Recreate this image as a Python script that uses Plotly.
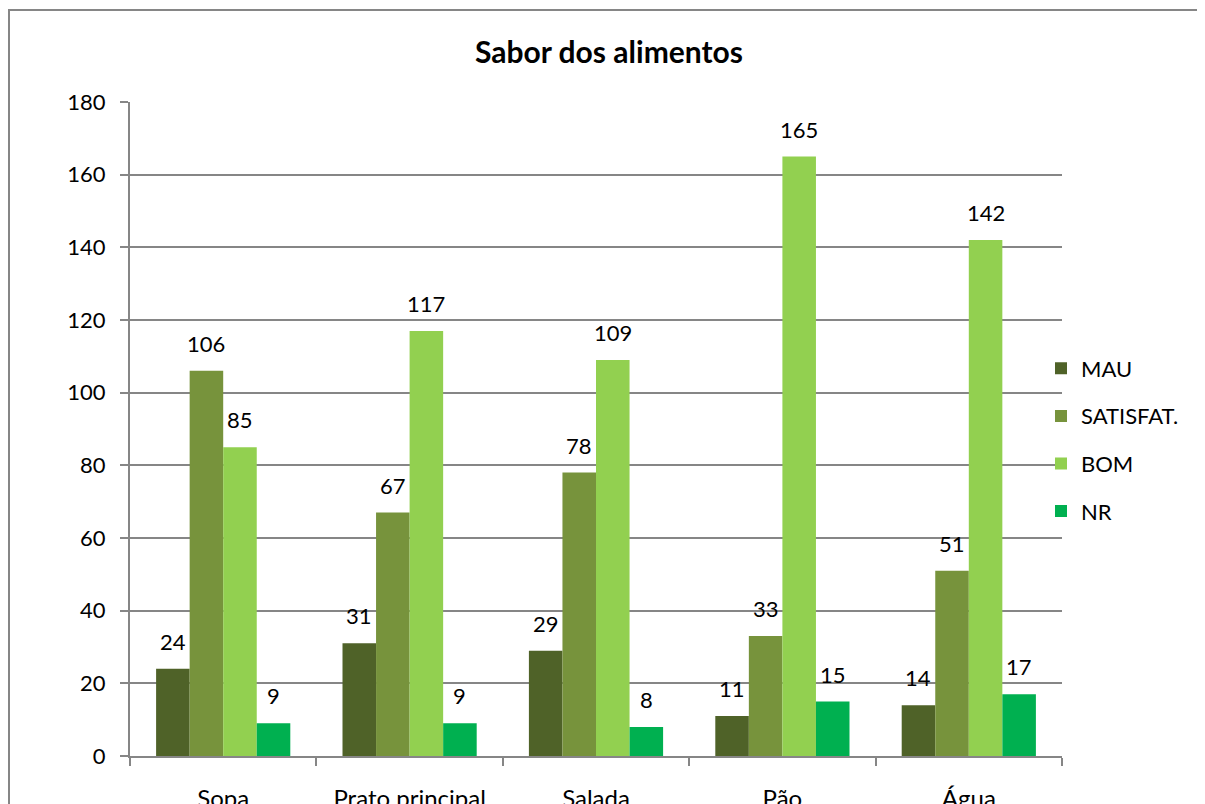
import plotly.graph_objects as go

categories = ["Sopa", "Prato principal", "Salada", "Pão", "Água"]
series_names = ["MAU", "SATISFAT.", "BOM", "NR"]
mau = [24, 31, 29, 11, 14]
satisfat = [106, 67, 78, 33, 51]
bom = [85, 117, 109, 165, 142]
nr = [9, 9, 8, 15, 17]
colors = ["#4F6228", "#77933C", "#92D050", "#00B050"]
y_ticks = [0, 20, 40, 60, 80, 100, 120, 140, 160, 180]

all_series = [mau, satisfat, bom, nr]
FONT = "Lato, 'Open Sans', sans-serif"

# page body has an 8px offset; figure laid out so the screenshot matches
OFF = 8
W, H = 1197, 796
L, R, T, B = 122, 143, 94, 48
plot_w = W - L - R
plot_h = H - T - B
bargap = 0.28
bar_px = plot_w / len(categories) * (1 - bargap) / len(all_series)


def sx(x):
    return (x - OFF - L) / plot_w


def sy(y):
    return (T + plot_h - (y - OFF)) / plot_h


fig = go.Figure()
for name, vals, col in zip(series_names, all_series, colors):
    fig.add_trace(go.Bar(
        x=categories, y=vals, name=name, marker=dict(color=col, line=dict(width=0)),
        legendgroup=name,
    ))

annotations = []
for i, vals in enumerate(all_series):
    for c, v in zip(categories, vals):
        annotations.append(dict(
            x=c, y=v, xref="x", yref="y", text=str(v), showarrow=False,
            xanchor="center", yanchor="bottom",
            xshift=(i - 1.5) * bar_px, yshift=12,
            font=dict(family=FONT, size=22, color="#000000"),
        ))

annotations.append(dict(
    x=sx(609), y=sy(51), xref="paper", yref="paper",
    text="<b>Sabor dos alimentos</b>", showarrow=False, xanchor="center", yanchor="middle",
    font=dict(family=FONT, size=30, color="#000000"),
))

fig.update_layout(
    width=W, height=H,
    margin=dict(l=L, r=R, t=T, b=B, pad=0, autoexpand=False),
    paper_bgcolor="white", plot_bgcolor="white",
    barmode="group", bargap=bargap, bargroupgap=0,
    showlegend=True,
    legend=dict(
        x=sx(1041), y=sy(440), xanchor="left", yanchor="middle",
        font=dict(family=FONT, size=22, color="#000000"),
        tracegroupgap=16, itemwidth=30, traceorder="grouped",
        bgcolor="rgba(0,0,0,0)",
    ),
    annotations=annotations,
    shapes=[dict(
        type="rect", xref="paper", yref="paper",
        x0=sx(9), x1=sx(1230),
        y0=sy(830), y1=sy(10),
        line=dict(color="#868686", width=2), fillcolor="rgba(0,0,0,0)", layer="below",
    )],
)

fig.update_xaxes(
    type="category", automargin=False, showline=True, linecolor="#868686", linewidth=2,
    ticks="outside", tickson="boundaries", ticklen=8, tickcolor="#868686", tickwidth=2,
    tickfont=dict(family=FONT, size=24, color="#000000"), ticklabelstandoff=20,
    showgrid=False, zeroline=False,
)
fig.update_yaxes(
    range=[0, 180], tickvals=y_ticks, automargin=False, showline=True, linecolor="#868686", linewidth=2,
    ticks="outside", ticklen=8, tickcolor="#868686", tickwidth=2,
    tickfont=dict(family=FONT, size=22, color="#000000"), ticklabelstandoff=10,
    showgrid=True, gridcolor="#868686", gridwidth=2, zeroline=False,
)

fig.write_html("out.html")
